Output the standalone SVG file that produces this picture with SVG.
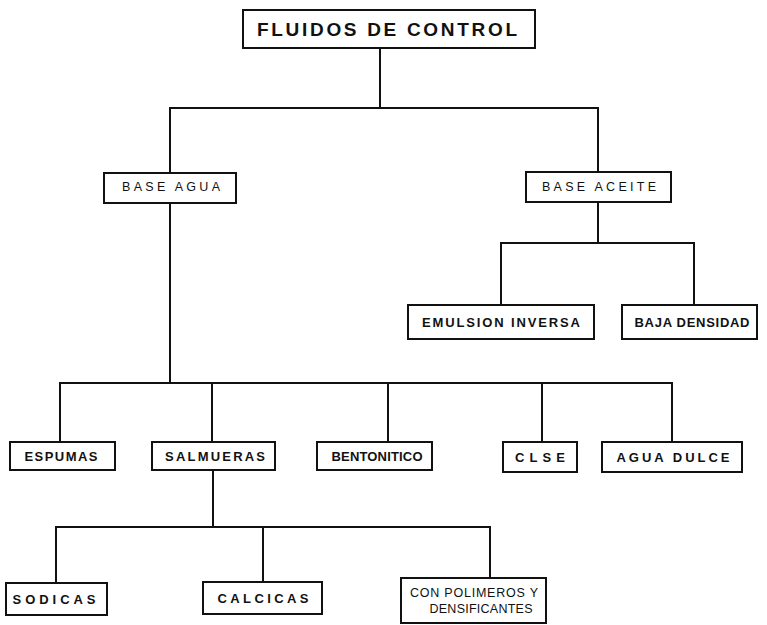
<svg xmlns="http://www.w3.org/2000/svg" width="767" height="625" viewBox="0 0 767 625">
<style>
.box{fill:#fff;stroke:#111;stroke-width:2}
.ln{fill:none;stroke:#111;stroke-width:2;stroke-linecap:square}
text{font-family:"Liberation Sans",Arial,sans-serif;font-weight:bold;fill:#111;text-anchor:middle}
.t{font-size:13px}
.light{font-weight:normal;font-size:12.5px}
.title{font-size:19px}
</style>
<rect width="767" height="625" fill="#fff"/>
<g id="connectors">
<path class="ln" d="M380,48 V108 M170,108 H598 M170,108 V173 M598,108 V172"/>
<path class="ln" d="M598,202 V243 M501,243 H694 M501,243 V305 M694,243 V305"/>
<path class="ln" d="M170,203 V383 M60,383 H672 M60,383 V442 M212,383 V442 M388,383 V442 M542,383 V442 M672,383 V442"/>
<path class="ln" d="M213,470 V527 M56,527 H490 M56,527 V583 M263,527 V582 M490,527 V578"/>
</g>
<g id="fluidos-de-control">
<rect class="box" x="243" y="10" width="292" height="38"/>
<text class="title" x="387" y="36" textLength="260" lengthAdjust="spacing">FLUIDOS DE CONTROL</text>
</g>
<g id="base-agua">
<rect class="box" x="104" y="173" width="132" height="30"/>
<text class="light" x="171" y="191" textLength="98" lengthAdjust="spacing">BASE AGUA</text>
</g>
<g id="base-aceite">
<rect class="box" x="526" y="172" width="145" height="30"/>
<text class="light" x="599" y="191" textLength="114" lengthAdjust="spacing">BASE ACEITE</text>
</g>
<g id="emulsion-inversa">
<rect class="box" x="408" y="305" width="186" height="34"/>
<text class="t" x="501" y="327" textLength="158" lengthAdjust="spacing">EMULSION INVERSA</text>
</g>
<g id="baja-densidad">
<rect class="box" x="622" y="305" width="135" height="34"/>
<text class="t" x="692" y="327" textLength="115" lengthAdjust="spacing">BAJA DENSIDAD</text>
</g>
<g id="espumas">
<rect class="box" x="10" y="442" width="105" height="28"/>
<text class="t" x="61" y="461" textLength="73" lengthAdjust="spacing">ESPUMAS</text>
</g>
<g id="salmueras">
<rect class="box" x="152" y="442" width="123" height="28"/>
<text class="t" x="215" y="461" textLength="100" lengthAdjust="spacing">SALMUERAS</text>
</g>
<g id="bentonitico">
<rect class="box" x="317" y="442" width="115" height="28"/>
<text class="t" x="377" y="461" textLength="91" lengthAdjust="spacing">BENTONITICO</text>
</g>
<g id="clse">
<rect class="box" x="503" y="442" width="74" height="30"/>
<text class="t" x="540" y="462" textLength="50" lengthAdjust="spacing">CLSE</text>
</g>
<g id="agua-dulce">
<rect class="box" x="602" y="442" width="140" height="30"/>
<text class="t" x="673" y="462" textLength="113" lengthAdjust="spacing">AGUA DULCE</text>
</g>
<g id="sodicas">
<rect class="box" x="6" y="583" width="101" height="32"/>
<text class="t" x="54" y="604" textLength="83" lengthAdjust="spacing">SODICAS</text>
</g>
<g id="calcicas">
<rect class="box" x="203" y="582" width="119" height="32"/>
<text class="t" x="263" y="603" textLength="91" lengthAdjust="spacing">CALCICAS</text>
</g>
<g id="con-polimeros">
<rect class="box" x="401" y="578" width="145" height="45"/>
<text class="light" x="474" y="597" textLength="128" lengthAdjust="spacing">CON POLIMEROS Y</text>
<text class="light" x="481" y="613" textLength="103" lengthAdjust="spacing">DENSIFICANTES</text>
</g>
</svg>
